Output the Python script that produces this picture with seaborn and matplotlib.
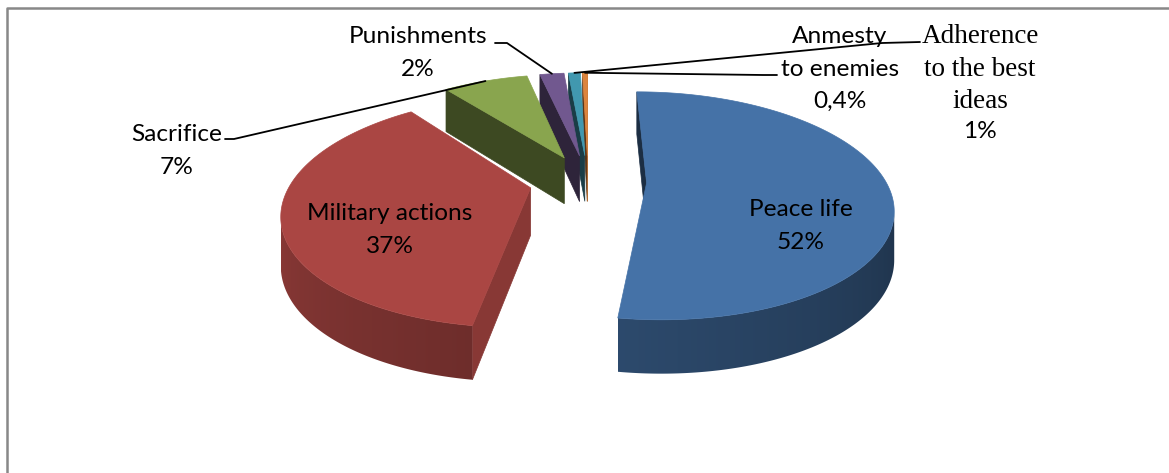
import numpy as np
import matplotlib
matplotlib.use("Agg")
import matplotlib.pyplot as plt
import seaborn as sns
from matplotlib.patches import Polygon

# ------------------------- data -------------------------
categories = ["Peace life", "Military actions", "Sacrifice", "Punishments",
              "Adherence\nto the best\nideas", "Anmesty\nto enemies"]
shares = [52, 37, 7, 2, 1, 0.4]
pct_labels = ["52%", "37%", "7%", "2%", "1%", "0,4%"]
colors = ["#4572A7", "#AA4643", "#89A54E", "#71588F", "#4198AF", "#DB843D"]

sns.set_theme(style="white")
plt.rcParams['font.family'] = ['Lato', 'DejaVu Sans']
palette = sns.color_palette(colors)

W, H = 1169, 473
fig = plt.figure(figsize=(W / 100, H / 100), dpi=100)
ax = fig.add_axes([0, 0, 1, 1])
ax.axis('off')

# chart frame (only top/left visible in the crop)
ax.plot([7, 7, W], [H, 8, 8], color='#888888', lw=1.8, solid_capstyle='butt')

# ---------------- 3d pie geometry (simple perspective) ----------------
CX, CY = 588, 181      # pie centre on screen
RX, RY = 239, 108.6    # radii
PERSP = 0.2            # perspective strength
DEPTH = 47             # thickness
EXPL = 0.245           # explosion distance (in radii)
CAM = (0.0, 1 / PERSP)

vals = np.array(shares, dtype=float)
ends = np.cumsum(vals) / vals.sum() * 360
starts = np.concatenate([[0], ends[:-1]])
mids = (starts + ends) / 2
offsets = [(EXPL * np.sin(np.radians(m)), -EXPL * np.cos(np.radians(m))) for m in mids]


def pt(u, v, h=0.0):
    s = 1 / (1 - PERSP * v)
    return CX + RX * u * s, CY + RY * v * s + DEPTH * h * s ** 0.6


def spoint(i, theta, r=1.0, h=0.0):
    ou, ov = offsets[i]
    t = np.radians(theta)
    return pt(ou + r * np.sin(t), ov - r * np.cos(t), h)


def shade(c, f):
    return tuple(min(1, x * f) for x in c)


def facing(n, p):
    return n[0] * (CAM[0] - p[0]) + n[1] * (CAM[1] - p[1]) > 0


z = 1
order = sorted(range(len(vals)), key=lambda i: offsets[i][1])
for i in order:
    base = palette[i]
    ts, te = starts[i], ends[i]
    ou, ov = offsets[i]
    apex_t = spoint(i, 0, r=0)
    apex_b = spoint(i, 0, r=0, h=1)

    # radial walls
    for th, sgn in ((ts, -1), (te, 1)):
        t = np.radians(th)
        n = (sgn * np.cos(t), sgn * np.sin(t))
        if facing(n, (ou, ov)):
            poly = [apex_t, spoint(i, th), spoint(i, th, h=1), apex_b]
            col = shade(base, 0.6 + 0.2 * n[0])
            ax.add_patch(Polygon(poly, closed=True, fc=col, ec=col, lw=0.5, zorder=z))
            z += 1

    # outer curved wall with gradient
    th_all = np.linspace(ts, te, max(6, int((te - ts) * 2)))
    vis = [facing((np.sin(np.radians(t)), -np.cos(np.radians(t))),
                  (ou + np.sin(np.radians(t)), ov - np.cos(np.radians(t)))) for t in th_all]
    thetas = th_all[np.array(vis)]
    if len(thetas) > 1:
        top = [spoint(i, t) for t in thetas]
        bot = [spoint(i, t, h=1) for t in thetas[::-1]]
        clip = Polygon(top + bot, closed=True, fc='none', ec='none', zorder=z)
        ax.add_patch(clip)
        xs = np.array([p[0] for p in top])
        fs = 0.42 + 0.42 * (np.clip(thetas, 90, 270) - 90) / 180
        srt = np.argsort(xs)
        allx = [p[0] for p in top + bot]
        ally = [p[1] for p in top + bot]
        gx = np.linspace(min(allx), max(allx), 300)
        gf = np.interp(gx, xs[srt], fs[srt])
        img = np.array([[shade(base, f) for f in gf]])
        im = ax.imshow(img, extent=(min(allx), max(allx), max(ally), min(ally)),
                       aspect='auto', interpolation='bilinear', zorder=z)
        im.set_clip_path(clip)
        z += 1

    # top face
    arc = [spoint(i, th) for th in np.linspace(ts, te, max(4, int(te - ts) * 2))]
    ax.add_patch(Polygon([apex_t] + arc, closed=True, fc=base, ec=base, lw=0.5, zorder=z))
    z += 1

ax.set_xlim(0, W)
ax.set_ylim(H, 0)
ax.set_aspect('auto')

# ---------------- labels ----------------
STEP = 32.5
SANS = ['Lato', 'DejaVu Sans']
SERIF = ['Liberation Serif', 'DejaVu Serif']


def draw_label(x, base_y, text, family=SANS, size=17.6):
    for k, line in enumerate(text.split("\n")):
        ax.text(x, base_y + k * STEP, line, family=family, fontsize=size,
                color='black', ha='center', va='baseline', zorder=z + 5)


draw_label(801, 216, f"{categories[0]}\n{pct_labels[0]}")
draw_label(390, 220, f"{categories[1]}\n{pct_labels[1]}")
draw_label(177, 141, f"{categories[2]}\n{pct_labels[2]}")
draw_label(418, 43, f"{categories[3]}\n{pct_labels[3]}")
draw_label(840, 43, f"{categories[5]}\n{pct_labels[5]}")
draw_label(980, 43, categories[4], family=SERIF, size=19.5)
draw_label(980, 138, pct_labels[4])

# leader lines
lk = dict(color='black', lw=1.3, zorder=z + 4)
p = spoint(2, mids[2])
ax.plot([225, 234, p[0]], [139, 139, p[1]], **lk)
p = spoint(3, mids[3])
ax.plot([495, 507, p[0]], [43, 43, p[1]], **lk)
p = spoint(5, mids[5])
ax.plot([777, 763, p[0]], [75, 75, p[1]], **lk)
p = spoint(4, mids[4])
ax.plot([920, 882, p[0]], [42, 43, p[1]], **lk)

fig.savefig("out.png", dpi=100)
